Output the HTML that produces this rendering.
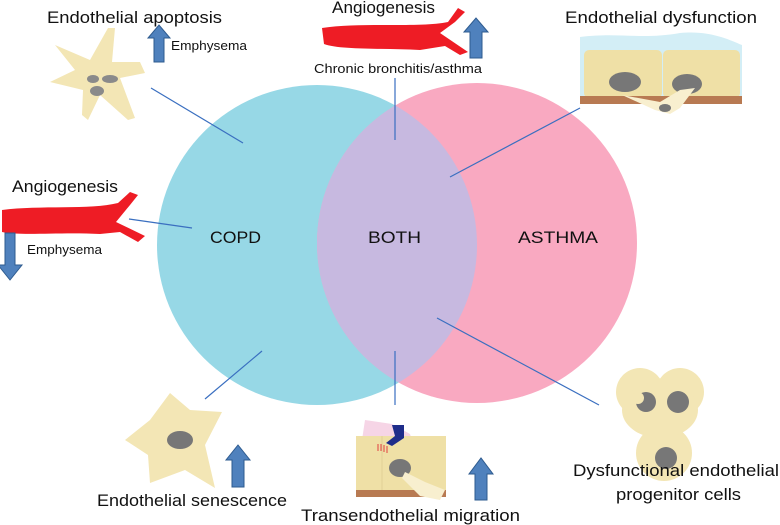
<!DOCTYPE html>
<html><head><meta charset="utf-8"><style>
html,body{margin:0;padding:0;background:#fff;width:780px;height:525px;overflow:hidden}
svg{display:block}
text{font-family:"Liberation Sans",sans-serif;fill:#111}
</style></head><body>
<svg width="780" height="525" viewBox="0 0 780 525" xmlns="http://www.w3.org/2000/svg">
<defs>
<clipPath id="cb"><circle cx="317" cy="245" r="160"/></clipPath>
</defs>
<circle cx="317" cy="245" r="160" fill="#97d8e6"/>
<circle cx="477" cy="243" r="160" fill="#f9a9c1"/>
<circle cx="477" cy="243" r="160" fill="#c7b9e0" clip-path="url(#cb)"/>

<g stroke="#3a6fc0" stroke-width="1.2">
<line x1="151" y1="88" x2="243" y2="143"/>
<line x1="129" y1="219" x2="192" y2="228"/>
<line x1="395" y1="78" x2="395" y2="140"/>
<line x1="580" y1="108" x2="450" y2="177"/>
<line x1="205" y1="399" x2="262" y2="351"/>
<line x1="395" y1="351" x2="395" y2="405"/>
<line x1="437" y1="318" x2="599" y2="405"/>
</g>

<!-- red vessels -->
<path d="M322,28 C360,22 420,28 448,22 L458,8 L465,12 L455,22 L440,33 L468,52 L460,55 L445,46 L420,50 C380,48 340,50 324,44 Z" fill="#ee1c25"/>
<path d="M2,210 C40,205 90,210 118,203 L130,192 L138,195 L130,205 L116,222 L145,236 L138,242 L120,232 L100,234 C60,232 20,236 2,232 Z" fill="#ee1c25"/>

<!-- blue arrows -->
<g fill="#4f81bd" stroke="#2e5b8f" stroke-width="1">
<path d="M154,62 L154,38 L148,38 L159,25 L170,38 L164,38 L164,62 Z"/>
<path d="M470,58 L470,32 L464,32 L476,18 L488,32 L482,32 L482,58 Z"/>
<path d="M5,233 L15,233 L15,265 L22,265 L10,280 L-2,265 L5,265 Z"/>
<path d="M232,487 L232,460 L226,460 L238,445 L250,460 L244,460 L244,487 Z"/>
<path d="M475,500 L475,474 L469,474 L481,458 L493,474 L487,474 L487,500 Z"/>
</g>

<!-- apoptotic cell -->
<path d="M108,28 L115,28 L112,62 L140,62 L145,73 L120,78 L135,118 L128,120 L100,95 L88,120 L82,115 L83,90 L50,82 L75,70 L55,45 L90,60 Z" fill="#f3e6b5"/>
<ellipse cx="93" cy="79" rx="6" ry="4" fill="#8a8a8a"/>
<ellipse cx="110" cy="79" rx="8" ry="4" fill="#8a8a8a"/>
<ellipse cx="97" cy="91" rx="7" ry="5" fill="#8a8a8a"/>

<!-- dysfunction block -->
<path d="M580,37 C620,32 640,40 680,33 C710,30 730,40 742,45 L742,98 L580,98 Z" fill="#d3eef6"/>
<rect x="584" y="50" width="78" height="48" rx="5" fill="#efe0a6"/>
<rect x="663" y="50" width="77" height="48" rx="5" fill="#efe0a6"/>
<rect x="580" y="96" width="162" height="8" fill="#b87a52"/>
<ellipse cx="625" cy="82" rx="16" ry="10" fill="#777"/>
<ellipse cx="687" cy="84" rx="15" ry="10" fill="#777"/>
<path d="M622,95 L660,102 L680,90 L695,88 L680,108 L670,114 L655,110 Z" fill="#f8efcf"/>
<ellipse cx="665" cy="108" rx="6" ry="4" fill="#777"/>

<!-- senescent cell -->
<path d="M170,393 L190,410 L222,412 L205,445 L215,488 L185,470 L150,483 L148,455 L125,440 L150,420 Z" fill="#f3e6b5"/>
<ellipse cx="180" cy="440" rx="13" ry="9" fill="#777"/>

<!-- transendothelial -->
<path d="M362,440 L365,420 L392,424 L410,434 L418,460 L400,466 L380,455 Z" fill="#f6d5e6"/>
<rect x="356" y="436" width="90" height="56" fill="#efe0a6"/>
<line x1="382" y1="436" x2="382" y2="490" stroke="#e2d197" stroke-width="1"/>
<rect x="356" y="490" width="90" height="7" fill="#b87a52"/>
<path d="M392,425 L404,425 L404,438 L392,446 L386,443 L395,436 Z" fill="#1f2d8a"/>
<ellipse cx="400" cy="468" rx="11" ry="9" fill="#777"/>
<path d="M405,472 L425,482 L445,490 L440,500 L420,496 L402,478 Z" fill="#f8efcf"/>
<g stroke="#e04040" stroke-width="1"><line x1="378" y1="444" x2="378" y2="451"/><line x1="381" y1="444" x2="381" y2="451"/><line x1="384" y1="445" x2="384" y2="452"/><line x1="387" y1="446" x2="387" y2="453"/></g>

<!-- progenitor cells -->
<circle cx="664" cy="453" r="28" fill="#f3e6b5"/>
<circle cx="640" cy="392" r="24" fill="#f3e6b5"/>
<circle cx="680" cy="392" r="24" fill="#f3e6b5"/>
<ellipse cx="660" cy="410" rx="38" ry="28" fill="#f3e6b5"/>
<circle cx="646" cy="402" r="10" fill="#777"/>
<circle cx="638" cy="398" r="6" fill="#f3e6b5"/>
<circle cx="678" cy="402" r="11" fill="#777"/>
<circle cx="666" cy="458" r="11" fill="#777"/>

<!-- labels -->
<text x="47" y="23" font-size="17" textLength="175" lengthAdjust="spacingAndGlyphs">Endothelial apoptosis</text>
<text x="171" y="50" font-size="12.5" textLength="76" lengthAdjust="spacingAndGlyphs">Emphysema</text>
<text x="332" y="13" font-size="17" textLength="103" lengthAdjust="spacingAndGlyphs">Angiogenesis</text>
<text x="314" y="73" font-size="12.5" textLength="168" lengthAdjust="spacingAndGlyphs">Chronic bronchitis/asthma</text>
<text x="565" y="23" font-size="17" textLength="192" lengthAdjust="spacingAndGlyphs">Endothelial dysfunction</text>
<text x="12" y="192" font-size="17" textLength="106" lengthAdjust="spacingAndGlyphs">Angiogenesis</text>
<text x="27" y="254" font-size="12.5" textLength="75" lengthAdjust="spacingAndGlyphs">Emphysema</text>
<text x="210" y="243" font-size="16.5" textLength="51" lengthAdjust="spacingAndGlyphs">COPD</text>
<text x="368" y="243" font-size="16.5" textLength="53" lengthAdjust="spacingAndGlyphs">BOTH</text>
<text x="518" y="243" font-size="16.5" textLength="80" lengthAdjust="spacingAndGlyphs">ASTHMA</text>
<text x="97" y="506" font-size="17" textLength="190" lengthAdjust="spacingAndGlyphs">Endothelial senescence</text>
<text x="301" y="521" font-size="17" textLength="219" lengthAdjust="spacingAndGlyphs">Transendothelial migration</text>
<text x="573" y="476" font-size="17" textLength="206" lengthAdjust="spacingAndGlyphs">Dysfunctional endothelial</text>
<text x="616" y="500" font-size="17" textLength="125" lengthAdjust="spacingAndGlyphs">progenitor cells</text>
</svg>
</body></html>
